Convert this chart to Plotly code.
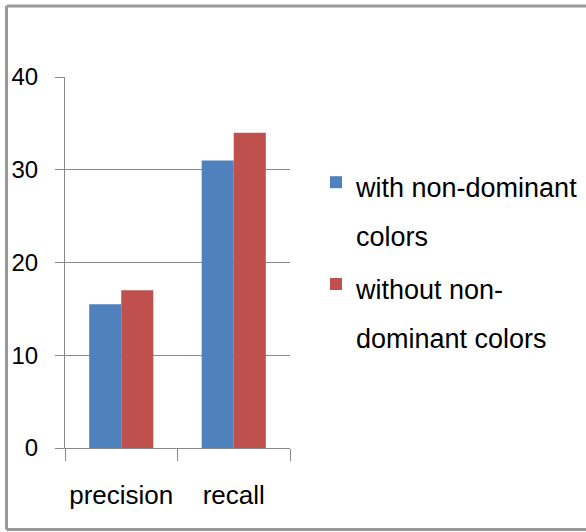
import plotly.graph_objects as go

categories = ["precision", "recall"]
with_nd = [15.5, 31.0]
without_nd = [17.0, 34.0]
series_lines = [["with non-dominant", "colors"], ["without non-", "dominant colors"]]
y_ticks = [0, 10, 20, 30, 40]

W, H = 586, 532
L, R, T, B = 65, 296, 77, 84
FONT = "Liberation Sans, Arial, sans-serif"
LEG_TXT = 27

def leg_name(lines):
    return "<br>".join(f"<span style='font-size:{LEG_TXT}px'>{s}</span>" for s in lines)

fig = go.Figure()
fig.add_trace(go.Bar(x=categories, y=with_nd, name=leg_name(series_lines[0]),
                     marker=dict(color="#4F81BD", line=dict(width=0))))
fig.add_trace(go.Bar(x=categories, y=without_nd, name=leg_name(series_lines[1]),
                     marker=dict(color="#C0504D", line=dict(width=0))))

pw, ph = W - L - R, H - T - B
def px_x(p): return (p - L) / pw
def px_y(p): return (H - B - p) / ph

# outer frame: left, top and bottom edges (right edge lies outside the picture)
frame = dict(color="#999999", width=3)
xl, xr, yt, yb = px_x(6.5), px_x(W + 10), px_y(6), px_y(529.5)
for x0, y0, x1, y1 in [(xl, yb, xl, yt), (xl, yt, xr, yt), (xl, yb, xr, yb)]:
    fig.add_shape(type="line", xref="paper", yref="paper", x0=x0, y0=y0, x1=x1, y1=y1,
                  line=frame, layer="below")

fig.update_layout(
    width=W, height=H,
    margin=dict(l=L, r=R, t=T, b=B, autoexpand=False),
    paper_bgcolor="white", plot_bgcolor="white",
    barmode="group", bargap=0.43, bargroupgap=0,
    font=dict(family=FONT, color="black"),
    showlegend=True,
    legend=dict(xref="container", yref="container",
                x=316 / W, y=1 - 151 / H, xanchor="left", yanchor="top",
                font=dict(size=38, family=FONT, color="black"),
                tracegroupgap=4, valign="top", bgcolor="rgba(0,0,0,0)"),
    xaxis=dict(showline=True, linecolor="#888888", linewidth=1,
               ticks="outside", tickson="boundaries", ticklen=12, tickcolor="#888888",
               tickfont=dict(size=26, family=FONT, color="black"), tickangle=0,
               ticklabelstandoff=24, showgrid=False, fixedrange=True),
    yaxis=dict(range=[0, 40], tickvals=y_ticks, showline=True, linecolor="#888888", linewidth=1,
               ticks="outside", ticklen=9, tickcolor="#888888",
               showgrid=True, gridcolor="#888888", gridwidth=1, zeroline=False,
               tickfont=dict(size=24, family=FONT, color="black"),
               ticklabelstandoff=12, fixedrange=True),
)

fig.write_html("out.html", config={"displayModeBar": False},
               post_script="document.body.style.margin='0';document.body.style.padding='0';document.body.style.overflow='hidden';")
